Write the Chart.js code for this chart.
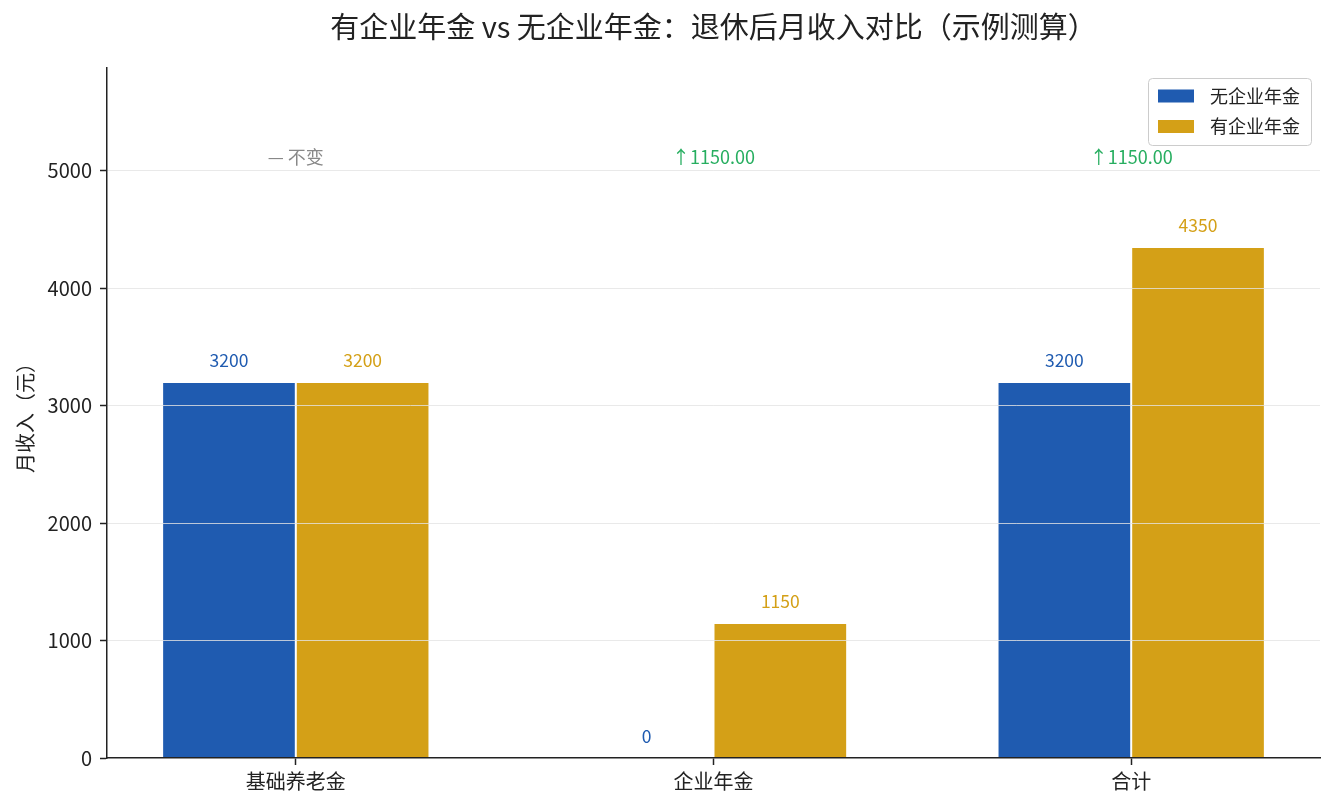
<!DOCTYPE html>
<html><head><meta charset="utf-8">
<script src="https://cdn.jsdelivr.net/npm/chart.js@4.4.1/dist/chart.umd.min.js"></script>
<style>html,body{margin:0;padding:0;background:#fff;}canvas{display:block;}</style>
</head><body>
<canvas id="c" width="1335" height="810"></canvas>
<script>
const categories = ['基础养老金', '企业年金', '合计'];
const seriesNames = ['无企业年金', '有企业年金'];
const withoutPension = [3200, 0, 3200];
const withPension = [3200, 1150, 4350];
const yTicks = [0, 1000, 2000, 3000, 4000, 5000];
const titleText = '有企业年金 vs 无企业年金：退休后月收入对比（示例测算）';
const yAxisTitle = '月收入（元）';

const FONT = '"Noto Sans CJK SC", "Noto Sans", sans-serif';
const colors = ['#1f5bb0', '#d4a017'];
const TEXT = '#222222';

const deltas = withPension.map((v, i) => v - withoutPension[i]);
const deltaLabels = deltas.map(d => d === 0 ? '— 不变' : (d > 0 ? '↑' : '↓') + Math.abs(d).toFixed(2));
const deltaColors = deltas.map(d => d === 0 ? '#888888' : (d > 0 ? '#27ae60' : '#c0392b'));
const maxVal = Math.max(...withPension, ...withoutPension);

const labelsPlugin = {
  id: 'labelsPlugin',
  afterDatasetsDraw(chart) {
    const ctx = chart.ctx;
    ctx.save();
    ctx.textAlign = 'center';
    ctx.textBaseline = 'middle';
    ctx.font = '17.5px ' + FONT;
    chart.data.datasets.forEach((ds, di) => {
      const meta = chart.getDatasetMeta(di);
      meta.data.forEach((el, i) => {
        ctx.fillStyle = ds.backgroundColor;
        ctx.fillText(String(ds.data[i].y), el.x, el.y - 22);
      });
    });
    const ys = chart.scales.y, xs = chart.scales.x;
    const yPix = ys.getPixelForValue(maxVal * 1.175);
    ctx.font = '18px ' + FONT;
    categories.forEach((c, i) => {
      ctx.fillStyle = deltaColors[i];
      ctx.fillText(deltaLabels[i], xs.getPixelForValue(i), yPix);
    });
    ctx.restore();
  },
  afterDraw(chart) {
    const ctx = chart.ctx;
    const ca = chart.chartArea;
    const w = 163, h = 67;
    const x0 = ca.right - 9 - w, y0 = ca.top + 10;
    ctx.save();
    ctx.beginPath();
    ctx.roundRect(x0 + 0.5, y0 + 0.5, w, h, 4);
    ctx.fillStyle = 'rgba(255,255,255,0.85)';
    ctx.fill();
    ctx.strokeStyle = '#cccccc';
    ctx.lineWidth = 1;
    ctx.stroke();
    ctx.font = '18px ' + FONT;
    ctx.textBaseline = 'middle';
    ctx.textAlign = 'left';
    chart.data.datasets.forEach((ds, i) => {
      const cy = y0 + 18 + i * 30.5;
      ctx.fillStyle = ds.backgroundColor;
      ctx.fillRect(x0 + 10, cy - 6.5, 36, 13);
      ctx.fillStyle = TEXT;
      ctx.fillText(ds.label, x0 + 62, cy);
    });
    ctx.restore();
  }
};

const datasets = [withoutPension, withPension].map((arr, si) => ({
  label: seriesNames[si],
  data: arr.map((v, i) => ({x: i, y: v})),
  backgroundColor: colors[si],
  borderColor: '#ffffff',
  borderWidth: 1,
  categoryPercentage: 0.64,
  barPercentage: 1.0
}));

new Chart(document.getElementById('c'), {
  type: 'bar',
  data: {datasets},
  options: {
    responsive: false,
    animation: false,
    devicePixelRatio: 1,
    layout: {padding: {left: 0, right: 15, top: 0, bottom: 0}},
    plugins: {
      legend: {display: false},
      tooltip: {enabled: false},
      title: {
        display: true,
        text: titleText,
        fullSize: false,
        color: TEXT,
        font: {family: FONT, size: 29, weight: 'normal', lineHeight: 1.2},
        padding: {top: 10, bottom: 23.2}
      }
    },
    scales: {
      x: {
        type: 'linear',
        offset: false,
        min: -0.452,
        max: 2.452,
        afterBuildTicks(s) { s.ticks = categories.map((c, i) => ({value: i})); },
        afterFit(s) { s.height = 52; },
        ticks: {
          callback: (v) => categories[v],
          color: TEXT,
          font: {family: FONT, size: 20},
          padding: 4,
          maxRotation: 0,
          autoSkip: false
        },
        grid: {offset: false, drawOnChartArea: false, drawTicks: true, tickLength: 7, tickColor: TEXT, tickWidth: 1.5},
        border: {color: TEXT, width: 1.5, z: 2}
      },
      y: {
        min: 0,
        max: maxVal * 1.35,
        afterBuildTicks(s) { s.ticks = yTicks.map(v => ({value: v})); },
        afterFit(s) { s.width = 107; },
        ticks: {
          callback: (v) => String(v),
          color: TEXT,
          font: {family: FONT, size: 20},
          padding: 8
        },
        grid: {
          z: 1,
          color: (c) => (c.tick && c.tick.value === 0) ? 'rgba(0,0,0,0)' : 'rgba(228,228,228,0.8)',
          lineWidth: 1,
          drawTicks: true,
          tickLength: 7,
          tickColor: TEXT,
          tickWidth: 1.5
        },
        border: {color: TEXT, width: 1.5, z: 2}
      ,
        title: {
          display: true,
          text: yAxisTitle,
          color: TEXT,
          font: {family: FONT, size: 20, lineHeight: 1.2},
          padding: {top: 13, bottom: 0}
        }
      }
    }
  },
  plugins: [labelsPlugin]
});
</script>
</body></html>
